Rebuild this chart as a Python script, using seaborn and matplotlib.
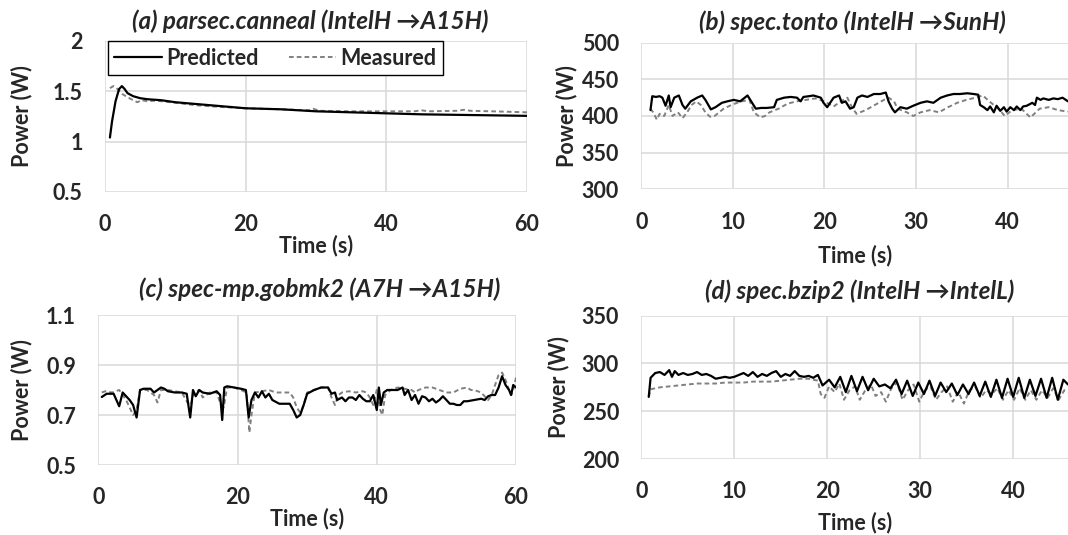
import matplotlib
matplotlib.use("Agg")
import matplotlib.pyplot as plt
import seaborn as sns
import pandas as pd

# ---- (a) parsec.canneal (IntelH -> A15H)
a_t_pred = [0.7, 1.0, 1.5, 2.0, 2.4, 2.8, 3.2, 4.0, 5.0, 6.0, 8.0, 10, 15, 20, 25, 30, 35, 40, 45, 50, 55, 60]
a_pred = [1.04, 1.20, 1.40, 1.52, 1.55, 1.52, 1.48, 1.45, 1.43, 1.42, 1.41, 1.39, 1.36, 1.33, 1.32, 1.30, 1.29,
          1.28, 1.27, 1.265, 1.26, 1.255]
a_t_meas = [0.7, 1.2, 1.8, 2.5, 3.2, 4.0, 4.6, 5.2, 6.0, 7.0, 8.0, 10, 13, 16, 20, 25, 29, 29.6, 30.5, 35, 40, 44,
            45, 46, 50, 51, 52, 55, 60]
a_meas = [1.53, 1.55, 1.52, 1.47, 1.44, 1.41, 1.39, 1.41, 1.40, 1.405, 1.40, 1.385, 1.36, 1.345, 1.33, 1.32, 1.31,
          1.325, 1.305, 1.30, 1.30, 1.30, 1.31, 1.30, 1.305, 1.315, 1.305, 1.30, 1.29]

# ---- (b) spec.tonto (IntelH -> SunH)
b_t_pred = [1.0, 1.2, 1.6, 2.0, 2.3, 2.65, 3.0, 3.2, 3.6, 4.1, 4.5, 4.8, 5.4, 6.1, 6.65, 7.0, 7.6, 8.1, 8.8, 9.4,
            10.1, 10.8, 11.6, 12.1, 12.5, 13.1, 13.7, 14.5, 14.8, 15.6, 16.3, 17.0, 17.4, 17.7, 18.3, 18.8, 19.6,
            19.9, 20.3, 21.0, 21.6, 21.9, 22.3, 22.8, 23.2, 23.6, 24.1, 24.7, 25.4, 26.1, 26.7, 27.0, 27.4, 27.7,
            28.3, 29.0, 29.7, 30.5, 31.2, 31.9, 32.7, 33.4, 34.1, 34.8, 35.6, 36.3, 36.8, 37.0, 37.4, 37.8, 38.1,
            38.5, 38.8, 39.2, 39.6, 39.9, 40.3, 40.7, 41.0, 41.4, 41.7, 42.1, 42.7, 43.0, 43.2, 43.6, 43.9, 44.5,
            45.0, 45.5, 46.0, 46.6]
b_pred = [408, 427, 426, 427, 425, 414, 428, 412, 425, 428, 415, 410, 420, 425, 428, 422, 409, 412, 418, 420,
          422, 420, 428, 418, 410, 411, 411, 412, 422, 425, 426, 425, 420, 426, 427, 428, 425, 418, 412, 425,
          428, 418, 420, 410, 412, 425, 428, 426, 430, 430, 432, 420, 410, 405, 412, 410, 414, 418, 420, 418,
          425, 428, 430, 430, 431, 430, 429, 415, 412, 408, 413, 405, 414, 407, 412, 406, 412, 408, 413, 408,
          413, 414, 418, 415, 425, 422, 424, 422, 424, 423, 425, 420]
b_t_meas = [1.0, 1.3, 1.7, 2.0, 2.5, 3.0, 3.4, 4.0, 4.5, 5.0, 5.5, 6.0, 6.5, 7.0, 7.5, 8.0, 9.0, 10.0, 11.0, 11.8,
            12.3, 13.0, 13.5, 14.0, 15.0, 16.0, 17.0, 18.0, 19.0, 20.0, 21.0, 21.8, 22.5, 23.0, 23.5, 24.5, 25.5,
            26.5, 27.0, 27.6, 28.0, 29.0, 29.7, 30.5, 31.5, 32.5, 33.5, 34.5, 35.5, 36.5, 37.3, 38.0, 39.0, 39.7,
            40.5, 41.5, 42.5, 43.5, 44.5, 45.5, 46.6]
b_meas = [410, 405, 395, 403, 400, 415, 400, 405, 397, 405, 415, 420, 415, 405, 399, 400, 410, 416, 420, 422,
          405, 398, 400, 405, 410, 417, 420, 422, 424, 420, 413, 420, 425, 412, 403, 408, 415, 422, 425, 420,
          410, 405, 400, 405, 408, 405, 412, 418, 422, 425, 428, 420, 410, 400, 408, 410, 398, 410, 412, 408,
          406]

# ---- (c) spec-mp.gobmk2 (A7H -> A15H)
c_t_pred = [0.5, 1.2, 2.2, 3.0, 3.5, 4.0, 4.5, 5.0, 5.5, 6.0, 6.5, 7.5, 8.0, 8.5, 9.0, 9.5, 10, 11, 12, 12.7,
            13.2, 13.6, 14, 14.5, 15, 16, 17, 17.5, 17.8, 18.1, 18.5, 19.5, 20.5, 21.2, 21.6, 22, 22.5, 23, 23.5,
            24, 24.5, 25, 26, 27, 27.5, 28, 28.5, 29, 29.5, 30, 31, 32, 33, 33.5, 34, 34.3, 35, 35.5, 36, 36.5,
            37, 37.5, 38, 38.5, 39, 39.5, 40, 40.3, 40.6, 41, 41.5, 42, 43, 43.7, 44, 44.5, 45, 45.5, 46, 46.5,
            47, 47.5, 48, 48.5, 49, 49.5, 50, 50.5, 51, 51.5, 52, 52.5, 53, 54, 55, 55.5, 56, 56.5, 57, 57.5,
            58, 58.5, 59, 59.3, 59.6, 60]
c_pred = [0.772, 0.785, 0.785, 0.735, 0.79, 0.775, 0.76, 0.74, 0.69, 0.80, 0.805, 0.805, 0.79, 0.80, 0.81, 0.805,
          0.795, 0.79, 0.79, 0.785, 0.69, 0.80, 0.775, 0.80, 0.79, 0.785, 0.795, 0.78, 0.68, 0.81, 0.815, 0.81,
          0.805, 0.80, 0.69, 0.76, 0.79, 0.77, 0.795, 0.77, 0.785, 0.76, 0.745, 0.745, 0.745, 0.72, 0.69, 0.70,
          0.74, 0.785, 0.80, 0.81, 0.81, 0.785, 0.79, 0.76, 0.77, 0.755, 0.77, 0.77, 0.76, 0.78, 0.765, 0.755,
          0.755, 0.78, 0.72, 0.81, 0.74, 0.79, 0.80, 0.80, 0.80, 0.81, 0.78, 0.80, 0.76, 0.78, 0.745, 0.775,
          0.77, 0.755, 0.765, 0.75, 0.76, 0.775, 0.76, 0.745, 0.745, 0.74, 0.74, 0.755, 0.755, 0.76, 0.765,
          0.76, 0.775, 0.78, 0.78, 0.81, 0.855, 0.82, 0.80, 0.78, 0.82, 0.81]
c_t_meas = [0.5, 1, 2, 3, 3.5, 4, 4.5, 5, 5.5, 6, 7, 8, 8.5, 9, 10, 11, 12, 12.8, 13.3, 13.7, 14.5, 15, 16, 17,
            17.5, 18, 18.5, 19.5, 20.5, 21.3, 21.7, 22.0, 22.5, 23.5, 24.5, 25.5, 26.5, 27.5, 28, 28.5, 29, 29.5,
            30, 31, 32, 33, 33.5, 34, 34.5, 35, 36, 37, 38, 38.5, 39, 39.5, 40, 40.5, 40.8, 41.2, 42, 43, 44, 45,
            45.5, 46, 47, 48, 49, 50, 51, 52, 53, 53.5, 54, 55, 56, 56.5, 57, 57.5, 58, 58.5, 59, 59.3, 59.6, 60]
c_meas = [0.79, 0.795, 0.79, 0.80, 0.78, 0.76, 0.73, 0.70, 0.72, 0.80, 0.80, 0.78, 0.75, 0.80, 0.80, 0.795,
          0.79, 0.75, 0.74, 0.79, 0.80, 0.77, 0.79, 0.79, 0.75, 0.73, 0.81, 0.81, 0.80, 0.79, 0.63, 0.70, 0.79,
          0.795, 0.80, 0.79, 0.79, 0.79, 0.77, 0.73, 0.71, 0.74, 0.79, 0.80, 0.81, 0.81, 0.77, 0.74, 0.78, 0.79,
          0.795, 0.79, 0.795, 0.79, 0.77, 0.74, 0.80, 0.72, 0.70, 0.78, 0.80, 0.81, 0.805, 0.80, 0.79, 0.80,
          0.81, 0.81, 0.80, 0.79, 0.79, 0.805, 0.81, 0.80, 0.80, 0.79, 0.76, 0.78, 0.82, 0.86, 0.87, 0.84, 0.80,
          0.78, 0.80, 0.85]

# ---- (d) spec.bzip2 (IntelH -> IntelL)
d_t_pred = [0.8, 1.0, 1.5, 2, 2.5, 3, 3.3, 3.6, 4, 4.5, 5, 5.5, 6, 6.5, 7, 7.5, 8, 8.5, 9, 9.5, 10, 10.5, 11,
            11.5, 12, 12.5, 13, 13.5, 14, 14.5, 15, 15.5, 16, 16.5, 17, 17.5, 18, 18.5, 19.0, 19.5, 20.2, 20.8,
            21.4, 22.0, 22.6, 23.2, 23.8, 24.4, 25.0, 25.6, 26.2, 26.8, 27.4, 28.0, 28.6, 29.2, 29.8, 30.4, 31.0,
            31.6, 32.2, 32.8, 33.4, 34.0, 34.6, 35.2, 35.8, 36.4, 37.0, 37.6, 38.2, 38.8, 39.4, 40.0, 40.6, 41.2,
            41.8, 42.4, 43.0, 43.6, 44.2, 44.8, 45.4, 45.9]
d_pred = [265, 285, 290, 291, 288, 293, 286, 292, 288, 290, 288, 289, 291, 288, 289, 287, 284, 285, 286, 285,
          286, 288, 290, 287, 291, 286, 289, 287, 290, 292, 286, 289, 287, 292, 287, 286, 287, 285, 288, 277,
          283, 275, 286, 270, 287, 271, 286, 272, 284, 276, 278, 274, 283, 268, 282, 266, 280, 268, 282, 266,
          280, 270, 279, 267, 278, 268, 280, 266, 281, 265, 283, 264, 284, 265, 285, 264, 283, 266, 284, 264,
          285, 262, 283, 278]
d_t_meas = [0.8, 1.0, 2, 3, 4, 5, 6, 7, 8, 9, 10, 11, 12, 13, 14, 15, 16, 17, 18, 18.5, 19.0, 19.3, 19.7, 20.2,
            20.8, 21.3, 21.8, 22.4, 23.0, 23.5, 24.1, 24.7, 25.2, 25.8, 26.3, 26.9, 27.5, 28.1, 28.7, 29.3, 29.9,
            30.5, 31.1, 31.7, 32.3, 32.9, 33.5, 34.1, 34.7, 35.3, 35.9, 36.5, 37.1, 37.7, 38.3, 38.9, 39.5, 40.1,
            40.7, 41.3, 41.9, 42.5, 43.1, 43.7, 44.3, 44.9, 45.5, 45.9]
d_meas = [265, 273, 275, 276, 277, 278, 279, 279, 279, 280, 280, 280, 281, 281, 281, 282, 283, 284, 284, 283,
          282, 268, 264, 276, 270, 279, 262, 272, 276, 262, 272, 278, 266, 270, 260, 274, 280, 262, 272, 278,
          260, 272, 276, 262, 270, 276, 260, 270, 258, 272, 276, 264, 272, 268, 274, 262, 272, 262, 274, 262,
          272, 262, 272, 264, 274, 262, 272, 270]

titles = ["(a) parsec.canneal (IntelH \u2192A15H)", "(b) spec.tonto (IntelH \u2192SunH)",
          "(c) spec-mp.gobmk2 (A7H \u2192A15H)", "(d) spec.bzip2 (IntelH \u2192IntelL)"]

sns.set_style("white")
plt.rcParams['font.family'] = ['Lato', 'DejaVu Sans']
plt.rcParams['font.weight'] = 'bold'

W, H = 1068, 535
fig = plt.figure(figsize=(W / 100, H / 100), dpi=100)


def px_axes(left, top, right, bottom):
    return fig.add_axes([left / W, 1 - bottom / H, (right - left) / W, (bottom - top) / H])


panels = [
    dict(box=(105, 40.7, 527, 192), xlim=(0, 60), xt=[0, 20, 40, 60], ylim=(0.5, 2), yt=[0.5, 1, 1.5, 2],
         ytl=["0.5", "1", "1.5", "2"], pred=(a_t_pred, a_pred), meas=(a_t_meas, a_meas),
         title=(310, 21), ylab_x=-0.171, xlab_y=-0.284),
    dict(box=(641.3, 42.7, 1068, 189.3), xlim=(0, 46.6), xt=[0, 10, 20, 30, 40], ylim=(300, 500),
         yt=[300, 350, 400, 450, 500], ytl=None, pred=(b_t_pred, b_pred), meas=(b_t_meas, b_meas),
         title=(852, 22), ylab_x=-0.151, xlab_y=-0.38),
    dict(box=(98.3, 315, 516, 465), xlim=(0, 60), xt=[0, 20, 40, 60], ylim=(0.5, 1.1), yt=[0.5, 0.7, 0.9, 1.1],
         ytl=None, pred=(c_t_pred, c_pred), meas=(c_t_meas, c_meas),
         title=(320, 289), ylab_x=-0.159, xlab_y=-0.287),
    dict(box=(641.3, 315.7, 1068, 459), xlim=(0, 45.9), xt=[0, 10, 20, 30, 40], ylim=(200, 350),
         yt=[200, 250, 300, 350], ytl=None, pred=(d_t_pred, d_pred), meas=(d_t_meas, d_meas),
         title=(860, 291), ylab_x=-0.169, xlab_y=-0.37),
]

FS = 15.5
for i, p in enumerate(panels):
    ax = px_axes(*p['box'])
    pred = pd.DataFrame({'Time': p['pred'][0], 'Power': p['pred'][1]})
    meas = pd.DataFrame({'Time': p['meas'][0], 'Power': p['meas'][1]})
    sns.lineplot(data=pred, x='Time', y='Power', ax=ax, color='black', lw=1.6, estimator=None,
                 label='Predicted', zorder=3)
    sns.lineplot(data=meas, x='Time', y='Power', ax=ax, color='#808080', lw=1.4, estimator=None,
                 linestyle=(0, (2.4, 1.6)), label='Measured', zorder=2)
    ax.set_xlim(*p['xlim'])
    ax.set_ylim(*p['ylim'])
    ax.set_xticks(p['xt'])
    ax.set_yticks(p['yt'])
    if p['ytl']:
        ax.set_yticklabels(p['ytl'])
    ax.grid(True, color='#d9d9d9', lw=1.1)
    ax.set_axisbelow(True)
    for s in ax.spines.values():
        s.set_visible(False)
    ax.tick_params(length=0, labelsize=FS)
    ax.tick_params(axis='y', pad=16)
    ax.tick_params(axis='x', pad=16)
    for lab in ax.get_xticklabels() + ax.get_yticklabels():
        lab.set_fontweight('bold')
    ax.set_xlabel('Time (s)', fontsize=FS, fontweight='bold')
    ax.set_ylabel('Power (W)', fontsize=FS, fontweight='bold')
    ax.xaxis.set_label_coords(0.5, p['xlab_y'])
    ax.yaxis.set_label_coords(p['ylab_x'], 0.5)
    fig.text(p['title'][0] / W, 1 - p['title'][1] / H, titles[i], ha='center', va='center',
             fontsize=17.5, fontweight='bold', fontstyle='italic')
    if i == 0:
        leg = ax.legend(loc='upper left', bbox_to_anchor=(0.007, 0.995), ncol=2, frameon=True, fancybox=False,
                        edgecolor='black', framealpha=1, prop={'size': FS, 'weight': 'bold'},
                        handlelength=2.2, columnspacing=1.4, borderpad=0.3, handletextpad=0.2,
                        borderaxespad=0)
        leg.get_frame().set_linewidth(1.0)
    else:
        ax.get_legend().remove()

fig.savefig('out.png', dpi=100)
